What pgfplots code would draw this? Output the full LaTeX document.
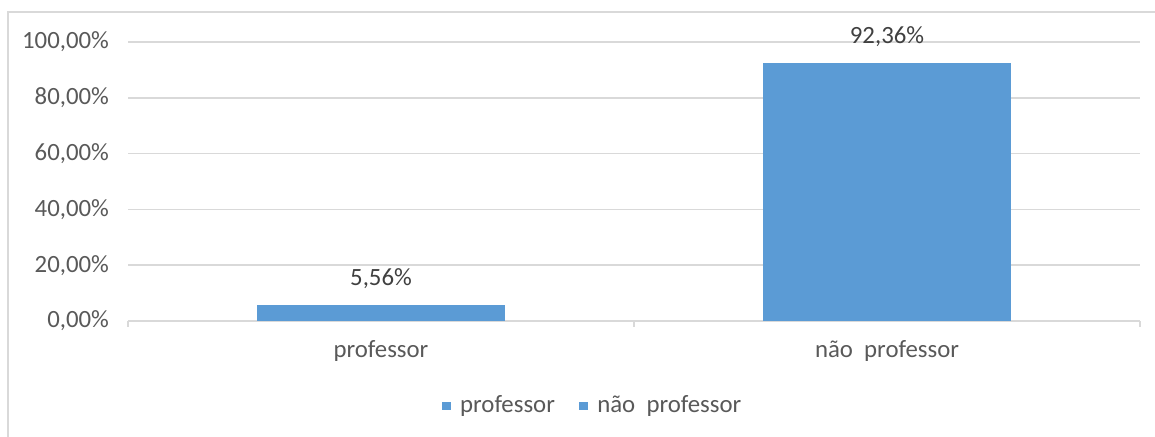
\documentclass[border=0pt]{standalone}
\usepackage{pgfplots}
\pgfplotsset{compat=1.18}
\usepackage{fontspec}
\setmainfont{Carlito}
\definecolor{barblue}{HTML}{5B9BD5}
\definecolor{gridgray}{HTML}{D9D9D9}
\definecolor{ticktext}{HTML}{595959}
\definecolor{datatext}{HTML}{404040}
\begin{document}
\begin{tikzpicture}[font=\fontsize{12.4}{15}\selectfont]
\useasboundingbox (0pt,0pt) rectangle (577.5pt,218.5pt);
\draw[gridgray,line width=1pt] (4pt,-10pt) -- (4pt,212.5pt) -- (600pt,212.5pt);
\begin{axis}[
  at={(64pt,58pt)}, anchor=south west,
  scale only axis, width=506pt, height=139.5pt,
  ybar, bar width=0.49, bar shift=0pt,
  xmin=-0.5, xmax=1.5, ymin=0, ymax=100,
  xtick={0,1}, xticklabels={professor, não\ \ professor},
  minor xtick={-0.5,0.5,1.5},
  ytick={0,20,40,60,80,100},
  yticklabels={{0,00\%},{20,00\%},{40,00\%},{60,00\%},{80,00\%},{100,00\%}},
  major tick length=0pt, minor tick length=3pt, tick align=outside,
  every tick/.style={gridgray, line width=0.8pt},
  ymajorgrids, grid style={gridgray, line width=0.8pt},
  axis x line*=bottom, axis y line*=left,
  x axis line style={gridgray, line width=0.8pt, -},
  y axis line style={draw=none},
  tick label style={text=ticktext},
  yticklabel style={xshift=-6pt},
  xticklabel style={yshift=-6pt},
  point meta=explicit symbolic,
  nodes near coords, every node near coord/.append style={text=datatext, yshift=5pt},
  legend columns=2,
  legend style={draw=none, at={(axis description cs:0.46,0)}, anchor=center, yshift=-42.5pt, text=ticktext, /tikz/every even column/.append style={column sep=10pt}},
  legend image code/.code={\fill[#1,draw=none] (0pt,-2.2pt) rectangle (4.4pt,2.2pt);},
]
\addplot[fill=barblue, draw=none] coordinates {(0,5.56) [5,56\%]};
\addlegendentry{\ professor}
\addplot[fill=barblue, draw=none] coordinates {(1,92.36) [92,36\%]};
\addlegendentry{\ não\ \ professor}
\end{axis}
\end{tikzpicture}
\end{document}
